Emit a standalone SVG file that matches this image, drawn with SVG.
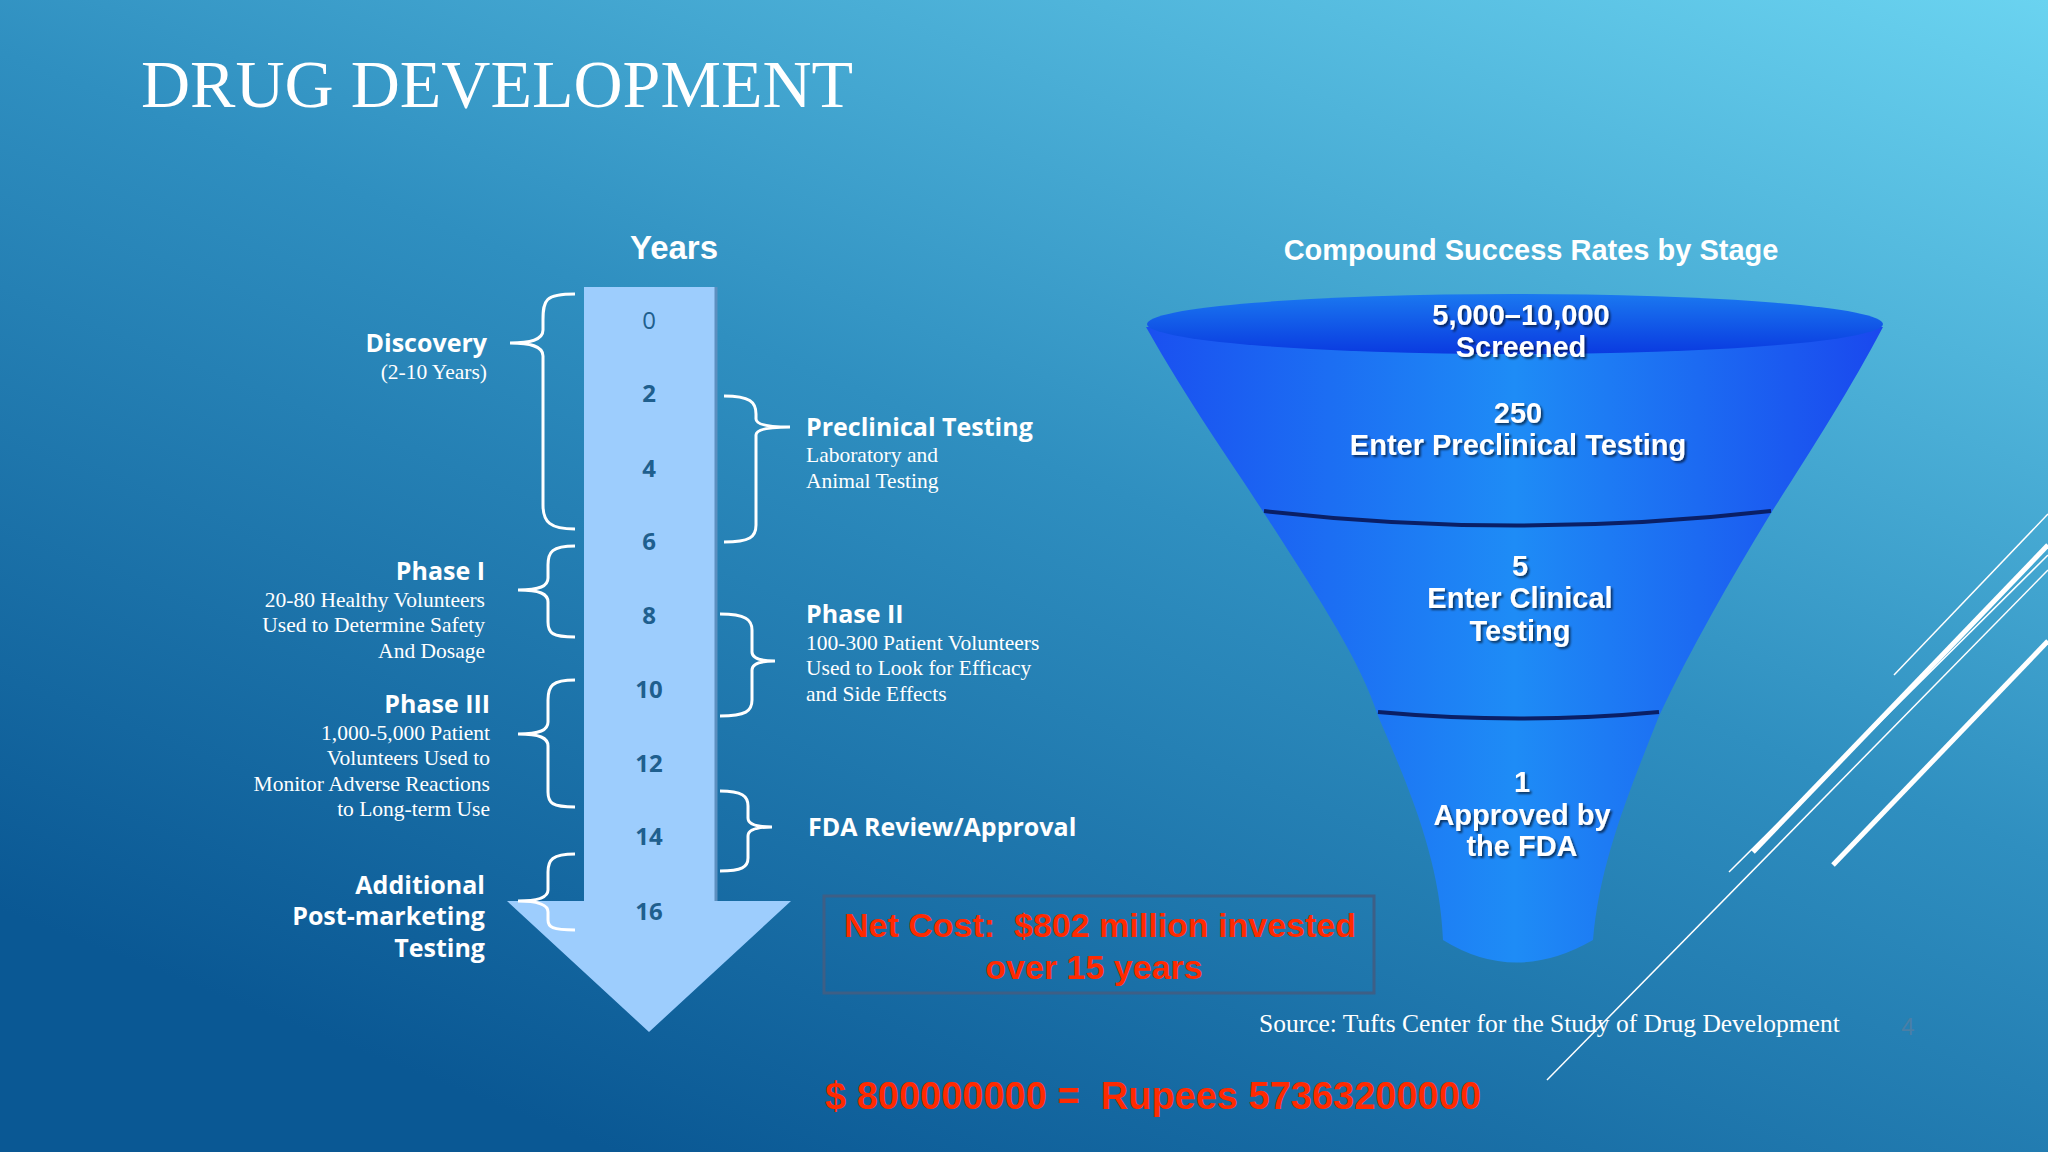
<svg xmlns="http://www.w3.org/2000/svg" width="2048" height="1152" viewBox="0 0 2048 1152">
<defs>
<linearGradient id="bg" x1="1" y1="0" x2="0.3" y2="1"><stop offset="0" stop-color="#6ad3f0"/><stop offset="0.5" stop-color="#2f8fc0"/><stop offset="1" stop-color="#0a5894"/></linearGradient>
<linearGradient id="fun" x1="0" y1="0" x2="1" y2="0"><stop offset="0" stop-color="#1a50f0"/><stop offset="0.5" stop-color="#1e8cf6"/><stop offset="1" stop-color="#1a48ee"/></linearGradient>
<linearGradient id="top" x1="0" y1="0" x2="0" y2="1"><stop offset="0" stop-color="#1a78f0"/><stop offset="1" stop-color="#0a3ae0"/></linearGradient>
<filter id="sh"><feDropShadow dx="2" dy="2" stdDeviation="1" flood-color="#000" flood-opacity="0.6"/></filter>
<style>
.b{fill:none;stroke:#fff;stroke-width:3}
.h{font-family:"Open Sans","Noto Sans",sans-serif;font-weight:bold;fill:#fff;font-size:25px}
.s{font-family:"Liberation Serif",serif;fill:#fff;font-size:21.5px}
.n{font-family:"Open Sans","Liberation Sans",sans-serif;font-weight:bold;fill:#1f5f8e;font-size:24px;text-anchor:middle}
.f{font-family:"Liberation Sans",Arial,sans-serif;font-weight:bold;fill:#fff;font-size:29px;text-anchor:middle}
.r{font-family:"Liberation Sans",Arial,sans-serif;font-weight:bold;fill:#ff2a00;font-size:34px;text-anchor:middle}
.dl{stroke:#fff;fill:none}
</style>
</defs>
<rect width="2048" height="1152" fill="url(#bg)"/>
<g id="deco">
<line class="dl" x1="1753" y1="852" x2="2048" y2="545" stroke-width="5"/>
<line class="dl" x1="1833" y1="865" x2="2048" y2="641" stroke-width="5"/>
<line class="dl" x1="1894" y1="675" x2="2048" y2="514" stroke-width="1.5"/>
<line class="dl" x1="1729" y1="872" x2="2048" y2="555" stroke-width="1.5"/>
<line class="dl" x1="1547" y1="1080" x2="2048" y2="570" stroke-width="1.5"/>
</g>
<text x="141" y="107" font-family="Liberation Serif,serif" font-size="68" fill="#fff">DRUG DEVELOPMENT</text>
<g id="timeline">
<text x="674" y="259" font-family="Liberation Sans,Arial,sans-serif" font-weight="bold" fill="#fff" font-size="33" text-anchor="middle">Years</text>
<path d="M584,287 H716 V901 H791 L649,1032 L507,901 H584 Z" fill="#9dcdfd"/>
<line x1="716" y1="287" x2="716" y2="901" stroke="#5d8fbf" stroke-width="3"/>
<g class="n"><text x="649" y="329" style="font-weight:normal">0</text><text x="649" y="402">2</text><text x="649" y="477">4</text><text x="649" y="550">6</text><text x="649" y="624">8</text><text x="649" y="698">10</text><text x="649" y="772">12</text><text x="649" y="845">14</text><text x="649" y="920">16</text></g>
</g>
<g id="connectors">
<path class="b" d="M575,294 C545,294 543,300 543,320 V330 C543,340 530,343 510,343 C530,343 543,346 543,356 V505 C543,522 550,529 575,529"/>
<path class="b" d="M575,546 C552,546 548,552 548,565 V578 C548,586 540,590 518,590 C540,590 548,594 548,602 V622 C548,633 552,637 575,637"/>
<path class="b" d="M575,680 C552,680 548,686 548,700 V722 C548,730 540,734 518,734 C540,734 548,738 548,746 V792 C548,803 552,807 575,807"/>
<path class="b" d="M575,854 C552,854 548,860 548,872 V890 C548,897 540,901 518,901 C540,901 548,905 548,912 V920 C548,927 552,930 575,930"/>
<path class="b" d="M724,396 C750,396 756,402 756,414 V419 C756,424 765,427 790,427 C765,427 756,430 756,435 V525 C756,537 750,542 724,542"/>
<path class="b" d="M720,614 C746,614 752,620 752,630 V652 C752,658 760,661 775,661 C760,661 752,664 752,670 V700 C752,711 746,716 720,716"/>
<path class="b" d="M720,791 C742,791 748,796 748,806 V818 C748,824 756,827 772,827 C756,827 748,830 748,836 V858 C748,867 742,871 720,871"/>
</g>
<g id="left-labels" text-anchor="end">
<text x="487" y="352" class="h">Discovery</text><text x="487" y="379" class="s">(2-10 Years)</text>
<text x="485" y="580" class="h">Phase I</text>
<text x="485" y="607" class="s">20-80 Healthy Volunteers</text><text x="485" y="632" class="s">Used to Determine Safety</text><text x="485" y="658" class="s">And Dosage</text>
<text x="490" y="713" class="h">Phase III</text>
<text x="490" y="740" class="s">1,000-5,000 Patient</text><text x="490" y="765" class="s">Volunteers Used to</text><text x="490" y="791" class="s">Monitor Adverse Reactions</text><text x="490" y="816" class="s">to Long-term Use</text>
<text x="485" y="894" class="h">Additional</text><text x="485" y="925" class="h">Post-marketing</text><text x="485" y="957" class="h">Testing</text>
</g>
<g id="right-labels">
<text x="806" y="436" class="h">Preclinical Testing</text><text x="806" y="462" class="s">Laboratory and</text><text x="806" y="488" class="s">Animal Testing</text>
<text x="806" y="623" class="h">Phase II</text>
<text x="806" y="650" class="s">100-300 Patient Volunteers</text><text x="806" y="675" class="s">Used to Look for Efficacy</text><text x="806" y="701" class="s">and Side Effects</text>
<text x="808" y="836" class="h">FDA Review/Approval</text>
</g>
<g id="cost">
<rect x="824" y="896" width="550" height="97" fill="none" stroke="#3d5f86" stroke-width="3"/>
<text x="1100" y="937" class="r" xml:space="preserve">Net Cost:  $802 million invested</text>
<text x="1094" y="979" class="r">over 15 years</text>
</g>
<g id="funnel">
<text x="1531" y="260" class="f">Compound Success Rates by Stage</text>
<path d="M1146,327 C1190,405 1230,460 1264,513 C1320,600 1360,660 1378,716 C1410,790 1440,860 1443,940 Q1515,985 1593,940 C1600,860 1630,790 1659,716 C1690,650 1730,580 1771,513 C1805,460 1850,390 1883,327 Z" fill="url(#fun)"/>
<ellipse cx="1515" cy="324" rx="368" ry="30" fill="url(#top)"/>
<path d="M1264,511 Q1515,540 1771,511" fill="none" stroke="#0a1f66" stroke-width="4"/>
<path d="M1378,712 Q1520,725 1659,712" fill="none" stroke="#0a1f66" stroke-width="4"/>
<g filter="url(#sh)">
<text x="1521" y="325" class="f">5,000–10,000</text><text x="1521" y="357" class="f">Screened</text>
<text x="1518" y="423" class="f">250</text><text x="1518" y="455" class="f">Enter Preclinical Testing</text>
<text x="1520" y="576" class="f">5</text><text x="1520" y="608" class="f">Enter Clinical</text><text x="1520" y="641" class="f">Testing</text>
<text x="1522" y="792" class="f">1</text><text x="1522" y="825" class="f">Approved by</text><text x="1522" y="856" class="f">the FDA</text>
</g>
</g>
<text x="1259" y="1032" class="s" style="font-size:25.5px">Source: Tufts Center for the Study of Drug Development</text>
<text x="1908" y="1035" font-family="Liberation Sans,sans-serif" font-size="24" fill="#4a7fa6" text-anchor="middle">4</text>
<text x="1153" y="1109" class="r" style="font-size:38px" xml:space="preserve">$ 800000000 =  Rupees 57363200000</text>
</svg>
